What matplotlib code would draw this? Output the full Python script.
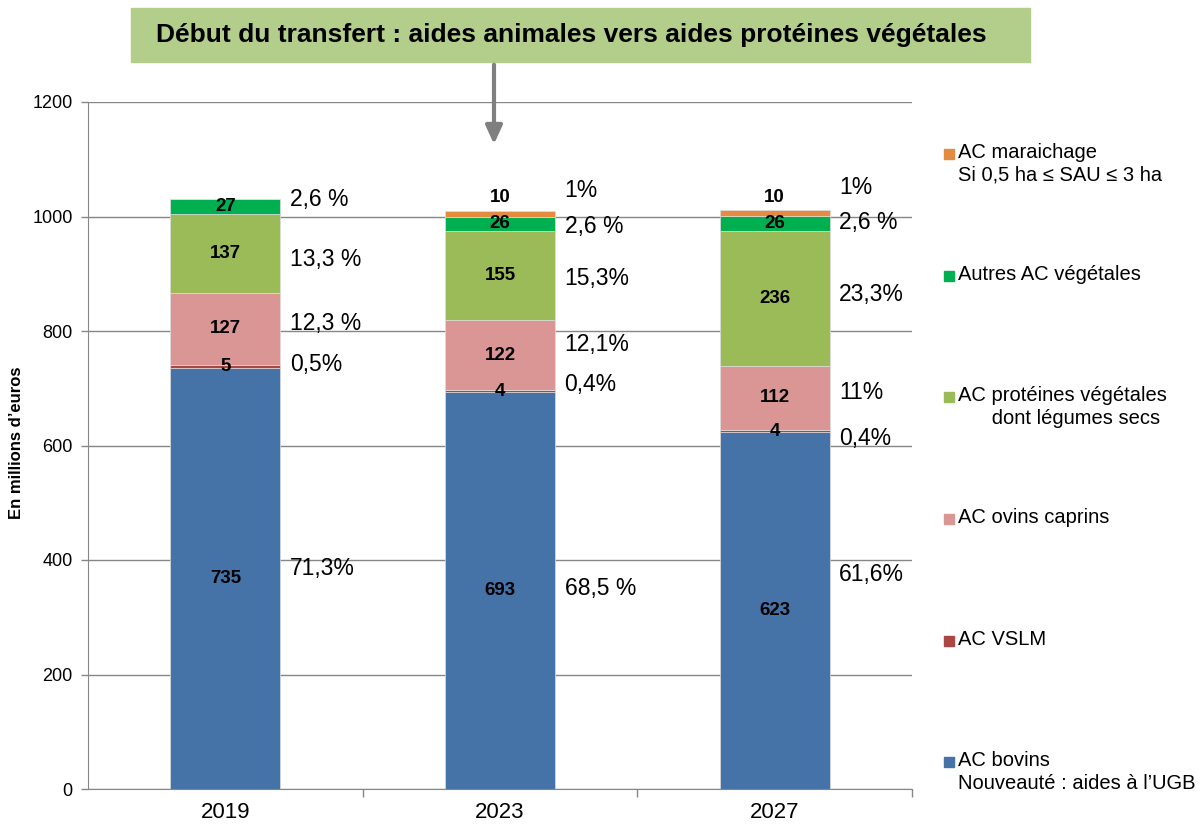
import numpy as np
import matplotlib.pyplot as plt
from matplotlib.patches import FancyArrowPatch

plt.rcParams['font.family'] = ['Liberation Sans', 'DejaVu Sans']

# donnees
annees = ['2019', '2023', '2027']
bovins = [735, 693, 623]
vslm = [5, 4, 4]
ovins = [127, 122, 112]
proteines = [137, 155, 236]
autres = [27, 26, 26]
maraichage = [0, 10, 10]

pct_bovins = ['71,3%', '68,5 %', '61,6%']
pct_vslm = ['0,5%', '0,4%', '0,4%']
pct_ovins = ['12,3 %', '12,1%', '11%']
pct_proteines = ['13,3 %', '15,3%', '23,3%']
pct_autres = ['2,6 %', '2,6 %', '2,6 %']
pct_maraichage = ['', '1%', '1%']

series = [
    (bovins, '#4572A7', 'AC bovins\nNouveauté : aides à l\u2019UGB'),
    (vslm, '#AA4643', 'AC VSLM'),
    (ovins, '#DA9694', 'AC ovins caprins'),
    (proteines, '#9BBB59', 'AC protéines végétales\n      dont légumes secs'),
    (autres, '#00B050', 'Autres AC végétales'),
    (maraichage, '#E38B3F', 'AC maraichage\nSi 0,5 ha \u2264 SAU \u2264 3 ha'),
]
pourcentages = [pct_bovins, pct_vslm, pct_ovins, pct_proteines, pct_autres, pct_maraichage]
# decalage vertical des pourcentages (en unites de donnees)
pct_offsets = [
    [18, 4, 64],
    [4, 11, -12],
    [10, 19, 9],
    [-10, -5, 6],
    [12, -5, 1],
    [0, 41, 44],
]

fig = plt.figure(figsize=(12.01, 8.26), dpi=100)
ax = fig.add_axes([88 / 1201, 1 - 789 / 826, 824 / 1201, 687 / 826])

x = np.arange(len(annees))
width = 0.4
bottom = np.zeros(len(annees))
for k, (vals, color, label) in enumerate(series):
    vals = np.array(vals, dtype=float)
    ax.bar(x, vals, width, bottom=bottom, color=color, edgecolor='#dddddd',
           linewidth=0.5, zorder=2)
    for i in range(len(annees)):
        if vals[i] == 0:
            continue
        if k == len(series) - 1:
            ty = bottom[i] + vals[i] + 23
        else:
            ty = bottom[i] + vals[i] / 2
        ax.text(x[i], ty, str(int(vals[i])), ha='center', va='center',
                fontsize=13.5, fontweight='bold', color='black', zorder=3)
        txt = pourcentages[k][i]
        if txt:
            ax.text(x[i] + width / 2 + 0.035, bottom[i] + vals[i] / 2 + pct_offsets[k][i], txt,
                    ha='left', va='center', fontsize=16.5, color='black', zorder=3)
    bottom += vals

ax.set_xlim(-0.5, 2.5)
ax.set_ylim(0, 1200)
ax.set_yticks(range(0, 1201, 200))
ax.set_xticks(x)
ax.set_xticklabels(annees, fontsize=16)
ax.set_xticks([0.5, 1.5, 2.5], minor=True)
ax.tick_params(axis='x', which='major', length=0, pad=9)
ax.tick_params(axis='x', which='minor', length=6, color='#868686', width=1)
ax.tick_params(axis='y', length=5, color='#868686', width=1, labelsize=13, pad=6)
ax.grid(axis='y', color='#868686', linewidth=1, zorder=0)
ax.set_axisbelow(True)
for s in ['top', 'right']:
    ax.spines[s].set_visible(False)
ax.spines['left'].set_color('#868686')
ax.spines['bottom'].set_color('#868686')

fig.text(17 / 1201, 1 - 443 / 826, 'En millions d\u2019euros', rotation=90, ha='center', va='center',
         fontsize=12, fontweight='bold')

# legende manuelle
leg_y = [762, 641, 519, 397, 276, 154]
for (vals, color, label), ly in zip(series, leg_y):
    fig.patches.append(plt.Rectangle((944 / 1201, 1 - (ly + 5) / 826), 10 / 1201, 10 / 826,
                                     transform=fig.transFigure, color=color))
    fig.text(958 / 1201, 1 - (ly - 11) / 826, label, ha='left', va='top', fontsize=14.5,
             linespacing=1.25)

# encadre du titre
fig.patches.append(plt.Rectangle((131 / 1201, 1 - 62 / 826), 899 / 1201, 54 / 826,
                                 transform=fig.transFigure, color='#B3CE8A', zorder=1))
fig.text(571 / 1201, 1 - 35 / 826, 'Début du transfert : aides animales vers aides protéines végétales',
         ha='center', va='center', fontsize=19, fontweight='bold', zorder=2)
arrow = FancyArrowPatch((494 / 1201, 1 - 62 / 826), (494 / 1201, 1 - 147 / 826),
                        transform=fig.transFigure, arrowstyle='-|>,head_length=11,head_width=5',
                        color='#7F7F7F', linewidth=3, mutation_scale=1)
fig.patches.append(arrow)

fig.savefig('out.png', dpi=100)
